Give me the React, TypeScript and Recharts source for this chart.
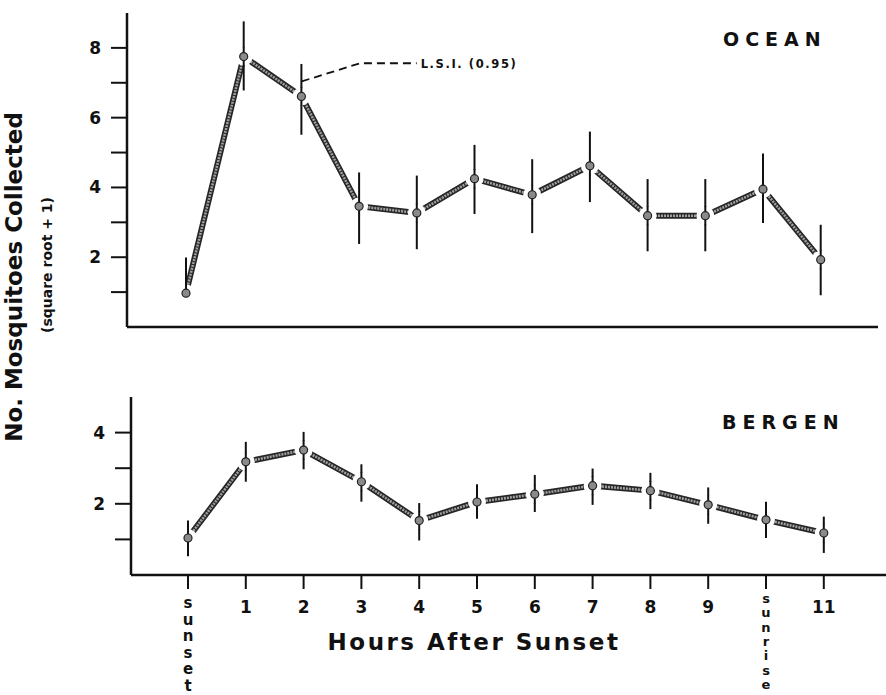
import React from 'react';
import { LineChart, Line, XAxis, YAxis, ErrorBar, ReferenceDot } from 'recharts';

const hours = [0, 1, 2, 3, 4, 5, 6, 7, 8, 9, 10, 11];
const hourLabels = ['sunset', '1', '2', '3', '4', '5', '6', '7', '8', '9', 'sunrise', '11'];

const oceanMean = [0.97, 7.75, 6.61, 3.46, 3.27, 4.25, 3.79, 4.62, 3.19, 3.19, 3.95, 1.93];
const oceanLow = [0.93, 6.78, 5.51, 2.38, 2.23, 3.24, 2.69, 3.58, 2.17, 2.17, 2.98, 0.91];
const oceanHigh = [1.99, 8.76, 7.54, 4.43, 4.34, 5.22, 4.81, 5.6, 4.24, 4.24, 4.97, 2.93];

const bergenMean = [1.04, 3.18, 3.51, 2.62, 1.53, 2.05, 2.27, 2.51, 2.37, 1.97, 1.55, 1.18];
const bergenLow = [0.53, 2.62, 2.97, 2.06, 0.97, 1.58, 1.77, 1.97, 1.85, 1.44, 1.04, 0.62];
const bergenHigh = [1.53, 3.74, 4.02, 3.11, 2.02, 2.55, 2.81, 2.99, 2.87, 2.46, 2.06, 1.64];

const oceanTicks = [1, 2, 3, 4, 5, 6, 7, 8];
const bergenTicks = [1, 2, 3, 4];

const lsiPath = [
  { h: 2.005, v: 7.04 },
  { h: 3.016, v: 7.56 },
  { h: 3.998, v: 7.56 },
];
const lsiLabel = 'L.S.I. (0.95)';

const build = (mean: number[], low: number[], high: number[]) =>
  hours.map((h, i) => ({ h, v: mean[i], err: [mean[i] - low[i], high[i] - mean[i]] }));

const oceanData = build(oceanMean, oceanLow, oceanHigh);
const bergenData = build(bergenMean, bergenLow, bergenHigh);

const FONT = '"DejaVu Sans", sans-serif';
const INK = '#111';

const markDot = (p: any) => {
  const err = p.payload?.err ?? [1, 1];
  const up = err[1] > 0.2 ? 9.5 : 0;
  const down = err[0] > 0.2 ? 9.5 : 0;
  return (
    <g key={`m${p.index}`}>
      <circle cx={p.cx} cy={p.cy} r={9} fill="#fff" stroke="none" />
      <line x1={p.cx} x2={p.cx} y1={p.cy - up} y2={p.cy + down} stroke={INK} strokeWidth={2} />
      <circle cx={p.cx} cy={p.cy} r={4} fill="#8a8a8a" stroke="#222" strokeWidth={1.2} />
    </g>
  );
};

const yTickFmt = (v: number) => (v % 2 === 0 ? String(v) : '');

const XTick = (props: any) => {
  const { x, y, payload } = props;
  const label = hourLabels[hours.indexOf(payload.value)] ?? String(payload.value);
  if (label.length > 2) {
    const isSet = label === 'sunset';
    const step = isSet ? 16.6 : 14.3;
    const first = isSet ? 17 : 12;
    const size = isSet ? 15 : 13;
    return (
      <text x={x} y={y + first} textAnchor="middle" fontFamily={FONT} fontWeight="bold" fontSize={size} fill={INK}>
        {label.split('').map((ch, i) => (
          <tspan key={i} x={x} dy={i === 0 ? 0 : step}>
            {ch}
          </tspan>
        ))}
      </text>
    );
  }
  return (
    <text x={x} y={y + 22} textAnchor="middle" fontFamily={FONT} fontWeight="bold" fontSize={17} fill={INK}>
      {label}
    </text>
  );
};

const topX = [(127 - 186) / 57.7, (878 - 186) / 57.7];
const botX = [(131 - 188) / 57.8, (886 - 188) / 57.8];

type Layer = 'base' | 'marks';

const tickStyle = { fontFamily: FONT, fontWeight: 'bold', fontSize: 17, fill: INK } as any;

function Panel(props: {
  layer: Layer;
  data: any[];
  height: number;
  margin: any;
  xDomain: number[];
  yDomain: number[];
  yTicks: number[];
  xHeight: number;
  showXTicks: boolean;
  extra?: React.ReactNode;
}) {
  const { layer, data, height, margin, xDomain, yDomain, yTicks, xHeight, showXTicks } = props;
  const base = layer === 'base';
  const axisLine = base ? { stroke: INK, strokeWidth: 2.5 } : false;
  return (
    <LineChart width={886} height={height} margin={margin}>
      <XAxis
        type="number"
        dataKey="h"
        domain={xDomain}
        allowDataOverflow
        ticks={hours}
        interval={0}
        height={xHeight}
        tickSize={14}
        tick={base && showXTicks ? <XTick /> : false}
        tickLine={base && showXTicks ? { stroke: INK, strokeWidth: 2 } : false}
        axisLine={axisLine as any}
      />
      <YAxis
        type="number"
        domain={yDomain}
        allowDataOverflow
        ticks={yTicks}
        tickFormatter={yTickFmt}
        width={60}
        tickSize={16}
        tickMargin={10}
        tick={base ? tickStyle : false}
        tickLine={base ? { stroke: INK, strokeWidth: 2 } : false}
        axisLine={axisLine as any}
      />
      {base && (
        <Line data={data} dataKey="v" type="linear" stroke="#262626" strokeWidth={6} dot={false} activeDot={false} isAnimationActive={false} />
      )}
      {base && (
        <Line data={data} dataKey="v" type="linear" stroke="#a0a0a0" strokeWidth={2.6} strokeDasharray="2 1" dot={false} activeDot={false} isAnimationActive={false} />
      )}
      {!base && (
        <Line data={data} dataKey="v" type="linear" stroke="none" dot={markDot} activeDot={false} isAnimationActive={false}>
          <ErrorBar dataKey="err" direction="y" width={0} stroke={INK} strokeWidth={2} />
        </Line>
      )}
      {base && props.extra}
    </LineChart>
  );
}

const layers: Layer[] = ['base', 'marks'];

export default function App() {
  const lsi = [
    <Line key="lsi" data={lsiPath} dataKey="v" type="linear" stroke={INK} strokeWidth={1.8} strokeDasharray="8 5" dot={false} activeDot={false} isAnimationActive={false} />,
    <ReferenceDot
      key="lsiL"
      x={lsiPath[2].h}
      y={lsiPath[2].v}
      r={0}
      fill="none"
      stroke="none"
      label={(p: any) => (
        <text x={p.viewBox.x + 4} y={p.viewBox.y + 5} fontFamily={FONT} fontWeight="bold" fontSize={11.5} letterSpacing={1.6} fill={INK}>
          {lsiLabel}
        </text>
      )}
    />,
  ];
  return (
    <div style={{ position: 'absolute', left: 0, top: 0, width: 886, height: 695, background: '#fff' }}>
      {layers.map((layer) => (
        <div key={`t${layer}`} style={{ position: 'absolute', left: 0, top: 0 }}>
          <Panel
            layer={layer}
            data={oceanData}
            height={340}
            margin={{ top: 13, right: 8, left: 67, bottom: 3 }}
            xDomain={topX}
            yDomain={[0, 9]}
            yTicks={oceanTicks}
            xHeight={10}
            showXTicks={false}
            extra={lsi}
          />
        </div>
      ))}
      {layers.map((layer) => (
        <div key={`b${layer}`} style={{ position: 'absolute', left: 0, top: 380 }}>
          <Panel
            layer={layer}
            data={bergenData}
            height={315}
            margin={{ top: 17, right: 0, left: 71, bottom: 10 }}
            xDomain={botX}
            yDomain={[0, 5]}
            yTicks={bergenTicks}
            xHeight={110}
            showXTicks={true}
          />
        </div>
      ))}
      <svg width={886} height={695} style={{ position: 'absolute', left: 0, top: 0, pointerEvents: 'none' }}>
        <g fontFamily={FONT} fill={INK}>
          <text transform="translate(14,277) rotate(-90)" textAnchor="middle" dominantBaseline="central" fontSize={23} fontWeight="bold">
            No. Mosquitoes Collected
          </text>
          <text transform="translate(47,265) rotate(-90)" textAnchor="middle" dominantBaseline="central" fontSize={14} fontWeight="bold">
            (square root + 1)
          </text>
          <text x={723} y={46} fontSize={19} fontWeight="bold" letterSpacing={6}>OCEAN</text>
          <text x={722} y={428.5} fontSize={19} fontWeight="bold" letterSpacing={6}>BERGEN</text>
          <text x={474} y={650} textAnchor="middle" fontSize={23} fontWeight="bold" letterSpacing={2.5}>
            Hours After Sunset
          </text>
        </g>
      </svg>
    </div>
  );
}
